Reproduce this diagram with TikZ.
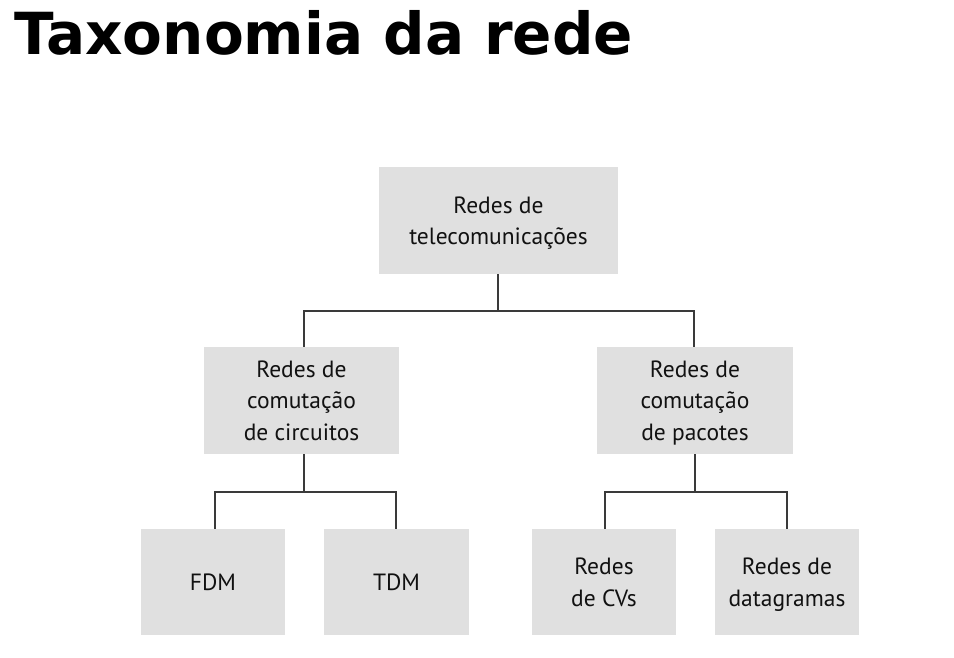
\documentclass[tikz,border=0pt]{standalone}
\usepackage{fontspec}
\setmainfont{PT Sans}
\newfontfamily\titlefont{DejaVu Sans}[BoldFont={DejaVu Sans Bold}]
\definecolor{boxgray}{HTML}{E0E0E0}
\definecolor{linegray}{HTML}{3A3A3A}
\definecolor{txt}{HTML}{111111}
\begin{document}
\begin{tikzpicture}[x=1pt,y=-1pt,
  tbox/.style={fill=boxgray,draw=none,inner sep=0pt,align=center,text=txt,
    text depth=0pt,font=\fontsize{23.5}{31.5}\selectfont},
  conn/.style={draw=linegray,line width=1.3pt}]
\useasboundingbox (0,0) rectangle (954,658);
\node[anchor=base west,font=\titlefont\bfseries\fontsize{58}{62}\selectfont,inner sep=0pt] (title) at (14,55) {Taxonomia da rede};
\node[tbox,minimum width=239,minimum height=107] (top) at (498.5,220.5) {Redes de\\telecomunicações};
\node[tbox,minimum width=195,minimum height=107] (lm) at (301.5,400.5) {Redes de\\comutação\\de circuitos};
\node[tbox,minimum width=196,minimum height=107] (rm) at (695,400.5) {Redes de\\comutação\\de pacotes};
\node[tbox,minimum width=144,minimum height=106] (fdm) at (213,582) {FDM};
\node[tbox,minimum width=145,minimum height=106] (tdm) at (396.5,582) {TDM};
\node[tbox,minimum width=144,minimum height=106] (cv) at (604,582) {Redes\\de CVs};
\node[tbox,minimum width=144,minimum height=106] (dg) at (787,582) {Redes de\\datagramas};
\coordinate (j1) at (498,311);
\coordinate (j2) at (304,492);
\coordinate (j3) at (695,492);
\draw[conn] (top.south -| j1) -- (j1);
\draw[conn] (j1) -| ([xshift=2.5]lm.north);
\draw[conn] (j1) -| ([xshift=-1]rm.north);
\draw[conn] (lm.south -| j2) -- (j2);
\draw[conn] (j2) -| ([xshift=2]fdm.north);
\draw[conn] (j2) -| ([xshift=-0.5]tdm.north);
\draw[conn] (rm.south -| j3) -- (j3);
\draw[conn] (j3) -| ([xshift=1]cv.north);
\draw[conn] (j3) -| (dg.north);
\end{tikzpicture}
\end{document}
